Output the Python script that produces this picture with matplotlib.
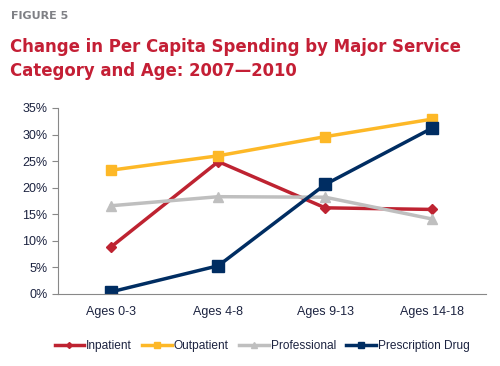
import matplotlib.pyplot as plt

# Data
categories = ["Ages 0-3", "Ages 4-8", "Ages 9-13", "Ages 14-18"]
inpatient = [8.9, 24.9, 16.2, 15.9]
outpatient = [23.3, 26.0, 29.6, 32.9]
professional = [16.6, 18.3, 18.2, 14.1]
prescription = [0.4, 5.3, 20.6, 31.2]
yticks = [0, 5, 10, 15, 20, 25, 30, 35]

plt.rcParams['font.family'] = ['Liberation Sans', 'DejaVu Sans']
text_col = "#1c2340"
fig = plt.figure(figsize=(5, 3.66), dpi=100)
ax = fig.add_axes([0.116, 0.197, 0.855, 0.508])

x = range(len(categories))
ax.plot(x, inpatient, color="#be2331", lw=2.5, marker="D", ms=5.5, label="Inpatient")
ax.plot(x, outpatient, color="#fdb827", lw=2.5, marker="s", ms=7.5, label="Outpatient")
ax.plot(x, professional, color="#bfbfbf", lw=2.5, marker="^", ms=7.5, label="Professional")
ax.plot(x, prescription, color="#002d62", lw=2.5, marker="s", ms=8.5, label="Prescription Drug")

ax.set_xlim(-0.5, 3.5)
ax.set_ylim(0, 35)
ax.set_yticks(yticks)
ax.set_yticklabels([f"{v}%" for v in yticks])
ax.set_xticks(list(x))
ax.set_xticklabels(categories)
ax.tick_params(axis="x", length=0, pad=9, labelsize=9, colors=text_col)
ax.tick_params(axis="y", length=4, labelsize=9, colors=text_col, color="#888888")
for s in ["top", "right"]:
    ax.spines[s].set_visible(False)
for s in ["left", "bottom"]:
    ax.spines[s].set_color("#888888")

fig.legend(loc="center", bbox_to_anchor=(0.524, 0.055), ncol=4, frameon=False,
           fontsize=8.6, handlelength=2.5, handletextpad=0.15, columnspacing=0.85,
           markerscale=0.55, labelcolor=text_col)

fig.text(0.022, 0.955, "FIGURE 5", color="#7f8085", fontsize=8, fontweight="bold",
         va="center", family="DejaVu Sans")
fig.text(0.02, 0.84, "Change in Per Capita Spending by Major Service\nCategory and Age: 2007\u20142010",
         color="#c41f35", fontsize=13.2, fontweight="bold", family="DejaVu Sans",
         fontstretch="condensed", va="center", linespacing=1.42)

fig.savefig("out.png", dpi=100)
